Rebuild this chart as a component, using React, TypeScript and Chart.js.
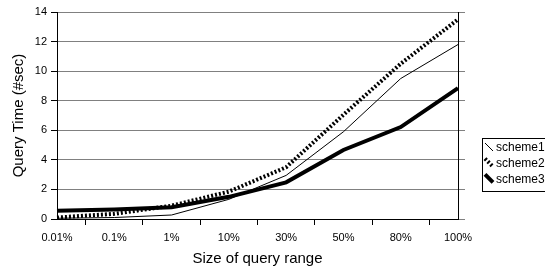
import React, { useEffect, useRef } from "react";
import { Chart, registerables } from "chart.js";

Chart.register(...registerables);

const categories = ["0.01%", "0.1%", "1%", "10%", "30%", "50%", "80%", "100%"];
const scheme1 = [0.05, 0.1, 0.27, 1.33, 2.95, 5.9, 9.5, 11.8];
const scheme2 = [0.1, 0.35, 0.9, 1.85, 3.5, 7.05, 10.5, 13.5];
const scheme3 = [0.55, 0.65, 0.8, 1.5, 2.48, 4.67, 6.22, 8.85];
const seriesNames = ["scheme1", "scheme2", "scheme3"];
const yTicks = [0, 2, 4, 6, 8, 10, 12, 14];

const FONT = "Arial, 'Liberation Sans', Helvetica, sans-serif";

const legendPlugin = {
  id: "customLegend",
  afterDraw(chart: any) {
    const ctx = chart.ctx;
    const ds = chart.data.datasets;
    ctx.save();
    ctx.strokeStyle = "#000";
    ctx.lineWidth = 1;
    ctx.strokeRect(482.5, 138.5, 80, 53);
    ds.forEach((d: any, i: number) => {
      const cy = 147 + i * 15.7;
      ctx.beginPath();
      ctx.strokeStyle = "#000";
      ctx.lineWidth = d.borderWidth;
      ctx.setLineDash(d.borderDash || []);
      ctx.moveTo(485, cy - 4);
      ctx.lineTo(493, cy + 4);
      ctx.stroke();
      ctx.setLineDash([]);
      ctx.fillStyle = "#000";
      ctx.font = "12px " + FONT;
      ctx.textBaseline = "middle";
      ctx.textAlign = "left";
      ctx.fillText(d.label, 496, cy + 1);
    });
    ctx.restore();
  },
};

export default function App() {
  const ref = useRef<HTMLCanvasElement>(null);
  useEffect(() => {
    if (!ref.current) return;
    const chart = new Chart(ref.current, {
      type: "line",
      data: {
        labels: categories,
        datasets: [
          {
            label: seriesNames[0],
            data: scheme1,
            borderColor: "#000",
            borderWidth: 1,
            pointRadius: 0,
            tension: 0,
          },
          {
            label: seriesNames[1],
            data: scheme2,
            borderColor: "#000",
            borderWidth: 4,
            borderDash: [2, 2],
            pointRadius: 0,
            tension: 0,
          },
          {
            label: seriesNames[2],
            data: scheme3,
            borderColor: "#000",
            borderWidth: 4,
            pointRadius: 0,
            tension: 0,
          },
        ],
      },
      options: {
        animation: false,
        responsive: false,
        maintainAspectRatio: false,
        layout: { padding: { top: 12, right: 80, left: 10, bottom: 0 } },
        plugins: {
          legend: { display: false },
          tooltip: { enabled: false },
        },
        scales: {
          x: {
            type: "category",
            offset: false,
            grid: {
              offset: true,
              drawOnChartArea: false,
              drawTicks: true,
              tickLength: 6,
              color: "#000",
            },
            border: { color: "#000", width: 1 },
            ticks: {
              color: "#000",
              font: { family: FONT, size: 11 },
              padding: 6,
              maxRotation: 0,
              autoSkip: false,
            },
            title: {
              display: true,
              text: "Size of query range",
              color: "#000",
              font: { family: FONT, size: 15 },
              padding: { top: 4, bottom: 3 },
            },
            afterFit(scale: any) {
              scale.height = 52;
            },
          },
          y: {
            min: 0,
            max: 14,
            afterBuildTicks(scale: any) {
              scale.ticks = yTicks.map((v) => ({ value: v }));
            },
            grid: {
              color: "#808080",
              lineWidth: 1,
              drawTicks: true,
              tickLength: 6,
              tickColor: "#000",
            },
            border: { color: "#000", width: 1 },
            ticks: {
              color: "#000",
              font: { family: FONT, size: 11 },
              padding: 4,
            },
            title: {
              display: true,
              text: "Query Time (#sec)",
              color: "#000",
              font: { family: FONT, size: 15 },
              padding: { top: 0, bottom: 6 },
            },
            afterFit(scale: any) {
              scale.width = 47;
            },
          },
          y2: {
            position: "right",
            min: 0,
            max: 14,
            afterBuildTicks(scale: any) {
              scale.ticks = yTicks.map((v) => ({ value: v }));
            },
            grid: {
              drawOnChartArea: false,
              drawTicks: true,
              tickLength: 7,
              tickColor: "#808080",
            },
            border: { color: "#000", width: 1 },
            ticks: { display: false },
            afterFit(scale: any) {
              scale.width = 7;
            },
          },
        },
      },
      plugins: [legendPlugin],
    });
    return () => chart.destroy();
  }, []);
  return (
    <div style={{ position: "absolute", left: 0, top: 0, width: 545, height: 271, background: "#fff" }}>
      <canvas ref={ref} width={545} height={271} style={{ width: 545, height: 271 }} />
    </div>
  );
}
